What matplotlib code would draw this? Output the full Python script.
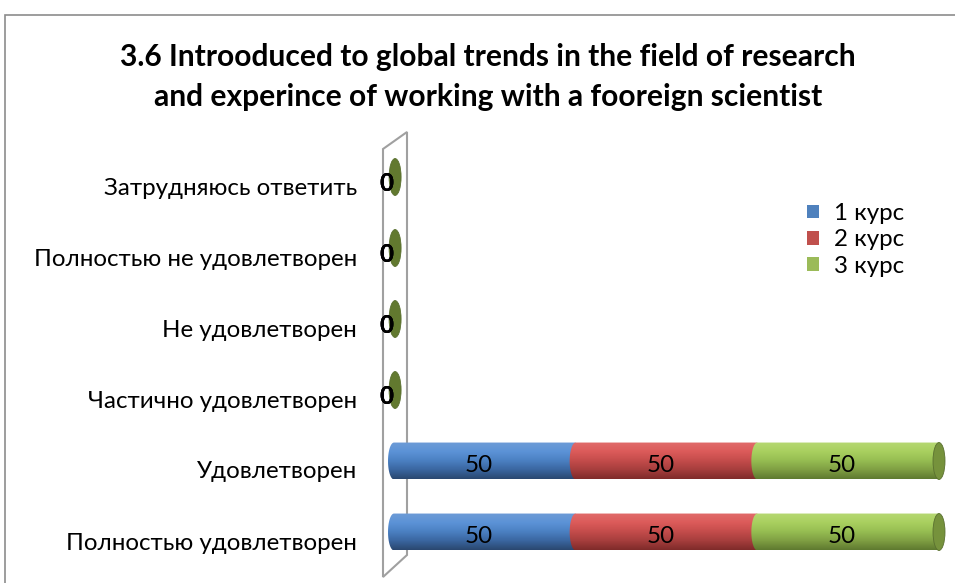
import numpy as np
import matplotlib

matplotlib.use("Agg")

import matplotlib.pyplot as plt
from matplotlib.colors import LinearSegmentedColormap
from matplotlib.patches import Ellipse, Patch, PathPatch, Polygon, Rectangle
from matplotlib.path import Path
from matplotlib.transforms import ScaledTranslation

plt.rcParams["font.family"] = ["Lato", "DejaVu Sans"]

# --- data ---
CATEGORIES = [
    "Полностью удовлетворен",
    "Удовлетворен",
    "Частично удовлетворен",
    "Не удовлетворен",
    "Полностью не удовлетворен",
    "Затрудняюсь ответить",
]
SERIES = ["1 курс", "2 курс", "3 курс"]
KURS_1 = [50, 50, 0, 0, 0, 0]
KURS_2 = [50, 50, 0, 0, 0, 0]
KURS_3 = [50, 50, 0, 0, 0, 0]
TITLE_LINES = ["3.6 Introoduced to global trends in the field of research",
               "and experince of working with a fooreign scientist"]

# --- styling ---
W, H, DPI = 955, 583, 100
LEGEND_COLORS = ["#4F81BD", "#C0504D", "#9BBB59"]
GRADIENTS = [
    ["#6d9bd6", "#5c93d7", "#4b80c2", "#3a66a0", "#2a4870"],
    ["#e06b6a", "#dc5b5a", "#c44c4b", "#a63e3d", "#7f2b2a"],
    ["#b6d872", "#a9d05f", "#96bd52", "#7f9f43", "#5f7a30"],
]
CAP_COLOR = "#76923c"
ZERO_CAP_COLOR = "#62792f"
BAR_H = 0.52
CAP_W = 3.3
FS = 17.4


def px(x, y):
    """pixel (from top-left) -> figure fraction"""
    return x / W, 1 - y / H


def segment_path(x0, x1, yc, h, w):
    theta = np.linspace(np.pi / 2, 3 * np.pi / 2, 40)
    xs = list(x0 + w / 2 * np.cos(theta)) + [x1, x1]
    ys = list(yc + h / 2 * np.sin(theta)) + [yc - h / 2, yc + h / 2]
    verts = list(zip(xs, ys)) + [(xs[0], ys[0])]
    codes = [Path.MOVETO] + [Path.LINETO] * (len(verts) - 2) + [Path.CLOSEPOLY]
    return Path(verts, codes)


def gradient_fill(ax, path, x0, x1, yc, h, colors, w):
    cmap = LinearSegmentedColormap.from_list("g", colors)
    grad = np.linspace(0, 1, 64).reshape(-1, 1)
    im = ax.imshow(grad, cmap=cmap, aspect="auto", interpolation="bilinear",
                   extent=(x0 - w, x1 + w, yc - h / 2, yc + h / 2),
                   origin="upper", zorder=3)
    patch = PathPatch(path, transform=ax.transData,
                      facecolor="none", edgecolor="none")
    ax.add_patch(patch)
    im.set_clip_path(patch)


fig = plt.figure(figsize=(W / DPI, H / DPI), dpi=DPI)

# chart frame
x0f, y0f = px(5, 15)
fig.patches.append(Rectangle((x0f, -0.1), 1.2, y0f + 0.1, transform=fig.transFigure,
                             facecolor="none", edgecolor="#8c8c8c", linewidth=1.2,
                             zorder=-2))

# 3D back wall (behind the axes)
wall = [px(383, 149), px(407, 132), px(407, 555), px(383, 577)]
fig.patches.append(Polygon(wall, closed=True, transform=fig.transFigure,
                           facecolor="white", edgecolor="#a0a0a0", linewidth=1.5,
                           zorder=-1))

# x: 0 -> 394 px, 150 -> 939 px ; xlim extended so the caps are not clipped
XMIN, XMAX = -8, 152
scale = 545 / 150
ax_left = 394 + XMIN * scale
ax_w = (XMAX - XMIN) * scale
ax = fig.add_axes([ax_left / W, (H - 567.5) / H, ax_w / W, 426 / H])
ax.patch.set_alpha(0)
ax.set_zorder(1)

series = [KURS_1, KURS_2, KURS_3]
y = np.arange(len(CATEGORIES))
left = np.zeros(len(CATEGORIES))
for s, vals in enumerate(series):
    for i, v in enumerate(vals):
        x0, x1 = left[i], left[i] + v
        if v > 0:
            gradient_fill(ax, segment_path(x0, x1, y[i], BAR_H, CAP_W),
                          x0, x1, y[i], BAR_H, GRADIENTS[s], CAP_W)
            ax.text(x0 + v / 2 - CAP_W / 2, y[i] - 0.07, f"{v}", ha="center",
                    va="center", fontsize=FS, color="black", zorder=6)
        else:
            ax.text(x0 - 2.2, y[i] - 0.09, "0", ha="center", va="center",
                    fontsize=FS, fontweight="bold", color="black", zorder=6)
    left += np.array(vals)

# visible end caps of the last series
for i in range(len(CATEGORIES)):
    zero = left[i] == 0
    cap_x = left[i] + (0.3 if zero else 0)
    ax.add_patch(Ellipse((cap_x, y[i]), CAP_W, BAR_H,
                         facecolor=ZERO_CAP_COLOR if zero else CAP_COLOR,
                         edgecolor="#5a7030", linewidth=0.6, zorder=4))

ax.set_xlim(XMIN, XMAX)
ax.set_ylim(-0.5, len(CATEGORIES) - 0.5)
ax.set_xticks([])
ax.set_yticks(y)
ax.set_yticklabels(CATEGORIES, fontsize=FS)
ax.tick_params(axis="y", length=0, pad=(ax_left - 357) / DPI * 72)
shift = ScaledTranslation(0, -9 / DPI, fig.dpi_scale_trans)
for lbl in ax.get_yticklabels():
    lbl.set_transform(lbl.get_transform() + shift)
for sp in ax.spines.values():
    sp.set_visible(False)

for line, ty in zip(TITLE_LINES, [57, 97]):
    fig.text(488 / W, 1 - ty / H, line, ha="center", va="center", fontsize=21.6,
             fontweight="bold")

handles = [Patch(facecolor=c, edgecolor="none", label=l)
           for c, l in zip(LEGEND_COLORS, SERIES)]
fig.legend(handles=handles, loc="upper left", bbox_to_anchor=px(807, 203),
           frameon=False, fontsize=FS, handlelength=0.5, handleheight=0.5,
           handletextpad=0.6, labelspacing=0.22, borderaxespad=0, borderpad=0)

fig.savefig("out.png", dpi=DPI, facecolor="white")
